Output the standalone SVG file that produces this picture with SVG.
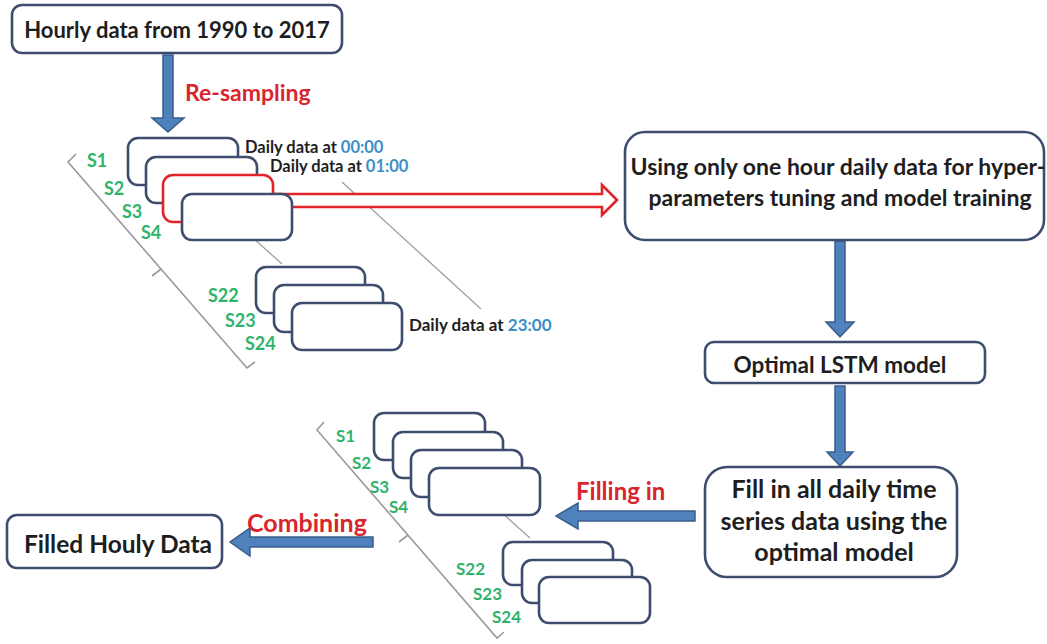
<svg xmlns="http://www.w3.org/2000/svg" width="1047" height="644" viewBox="0 0 1047 644">
<defs>
<style>
.box{fill:#fff;stroke:#3e4c6e;stroke-width:2.6}
.rbox{fill:#fff;stroke:#e0242a;stroke-width:2.6}
.t{font-family:Lato,"Liberation Sans",sans-serif;font-weight:bold;fill:#1e1e1e}
.red{font-family:Lato,"Liberation Sans",sans-serif;font-weight:bold;fill:#d9262e}
.grn{font-family:Lato,"Liberation Sans",sans-serif;font-weight:bold;fill:#2fb36b}
.blu{fill:#3a8fc6}
.arr{fill:#4f81bd;stroke:#385d8a;stroke-width:1.5}
.gl{stroke:#a0a0a0;stroke-width:1.3;fill:none}
.br{stroke:#9a9a9a;stroke-width:1.6;fill:none}
</style>
</defs>

<g id="connectors">
  <polygon class="arr" points="163,55 173,55 173,118 184,118 168,132 152,118 163,118"/>
  <polygon class="arr" points="835,241 845,241 845,322 854,322 840,337 826,322 835,322"/>
  <polygon class="arr" points="835,386 845,386 845,452 853,452 840,466 827,452 835,452"/>
  <polygon class="arr" points="695,511 695,521 578,521 578,529 556,516 578,503 578,511"/>
  <polygon class="arr" points="373,537 373,547 250,547 250,556 230,542 250,528 250,537"/>
  <line class="gl" x1="233" y1="220" x2="282" y2="264"/>
  <line class="gl" x1="342" y1="182" x2="481" y2="309"/>
  <line class="gl" x1="482" y1="495" x2="530" y2="538"/>
  <polyline class="br" points="76,154 68,162 247,368 255,362"/>
  <line class="br" x1="161" y1="269" x2="152" y2="276"/>
  <polyline class="br" points="324,422 317,430 497,638 504,632"/>
  <line class="br" x1="408" y1="535" x2="399" y2="542"/>
  <polygon fill="#fff" stroke="#e0242a" stroke-width="2.6" stroke-linejoin="miter" points="273,194 602,194 602,185 617,200 602,215 602,207 273,207"/>
</g>

<g id="node-hourly">
  <rect class="box" x="12" y="5" width="330" height="48" rx="10"/>
  <text class="t" x="177" y="38" font-size="22" text-anchor="middle">Hourly data from 1990 to 2017</text>
</g>
<text class="red" x="185" y="101" font-size="23">Re-sampling</text>

<g id="node-stack-top">
  <rect class="box" x="128" y="138" width="110" height="47" rx="10"/>
  <rect class="box" x="146" y="157" width="111" height="46" rx="10"/>
  <rect class="rbox" x="163" y="175" width="110" height="47" rx="10"/>
  <rect class="box" x="182" y="194" width="110" height="46" rx="10"/>
  <rect class="box" x="256" y="267" width="109" height="46" rx="10"/>
  <rect class="box" x="274" y="285" width="109" height="47" rx="10"/>
  <rect class="box" x="292" y="303" width="110" height="47" rx="10"/>
  <text class="grn" x="87" y="167" font-size="18">S1</text>
  <text class="grn" x="104" y="195" font-size="18">S2</text>
  <text class="grn" x="122" y="218" font-size="18">S3</text>
  <text class="grn" x="141" y="239" font-size="18">S4</text>
  <text class="grn" x="208" y="302" font-size="18">S22</text>
  <text class="grn" x="225" y="327" font-size="18">S23</text>
  <text class="grn" x="245" y="350" font-size="18">S24</text>
  <text class="t" x="245" y="153" font-size="16.5">Daily data at <tspan class="blu">00:00</tspan></text>
  <text class="t" x="270" y="172" font-size="16.5">Daily data at <tspan class="blu">01:00</tspan></text>
  <text class="t" x="409" y="331" font-size="17">Daily data at <tspan class="blu">23:00</tspan></text>
</g>

<g id="node-tuning">
  <rect class="box" x="625" y="132" width="419" height="108" rx="20"/>
  <text class="t" x="838" y="175" font-size="23" text-anchor="middle">Using only one hour daily data for hyper-</text>
  <text class="t" x="840" y="206" font-size="23" text-anchor="middle">parameters tuning and model training</text>
</g>

<g id="node-optimal">
  <rect class="box" x="705" y="342" width="280" height="41" rx="9"/>
  <text class="t" x="840" y="373" font-size="22.5" text-anchor="middle">Optimal LSTM model</text>
</g>

<g id="node-fill">
  <rect class="box" x="705" y="467" width="252" height="110" rx="22"/>
  <text class="t" x="834" y="498" font-size="25" text-anchor="middle">Fill in all daily time</text>
  <text class="t" x="834" y="530" font-size="25" text-anchor="middle">series data using the</text>
  <text class="t" x="834" y="561" font-size="25" text-anchor="middle">optimal model</text>
</g>
<text class="red" x="576" y="500" font-size="24">Filling in</text>

<g id="node-stack-bottom">
  <rect class="box" x="374" y="413" width="111" height="47" rx="10"/>
  <rect class="box" x="393" y="432" width="110" height="46" rx="10"/>
  <rect class="box" x="411" y="450" width="111" height="47" rx="10"/>
  <rect class="box" x="429" y="468" width="111" height="47" rx="10"/>
  <rect class="box" x="503" y="542" width="110" height="43" rx="10"/>
  <rect class="box" x="522" y="560" width="110" height="43" rx="10"/>
  <rect class="box" x="539" y="577" width="111" height="46" rx="10"/>
  <text class="grn" x="336" y="442" font-size="17">S1</text>
  <text class="grn" x="352" y="469" font-size="17">S2</text>
  <text class="grn" x="370" y="493" font-size="17">S3</text>
  <text class="grn" x="389" y="513" font-size="17">S4</text>
  <text class="grn" x="456" y="575" font-size="17">S22</text>
  <text class="grn" x="473" y="600" font-size="17">S23</text>
  <text class="grn" x="492" y="623" font-size="17">S24</text>
</g>

<text class="red" x="247" y="532" font-size="25">Combining</text>
<g id="node-filled">
  <rect class="box" x="7" y="515" width="215" height="53" rx="10"/>
  <text class="t" x="118" y="553" font-size="24.5" text-anchor="middle">Filled Houly Data</text>
</g>
</svg>
